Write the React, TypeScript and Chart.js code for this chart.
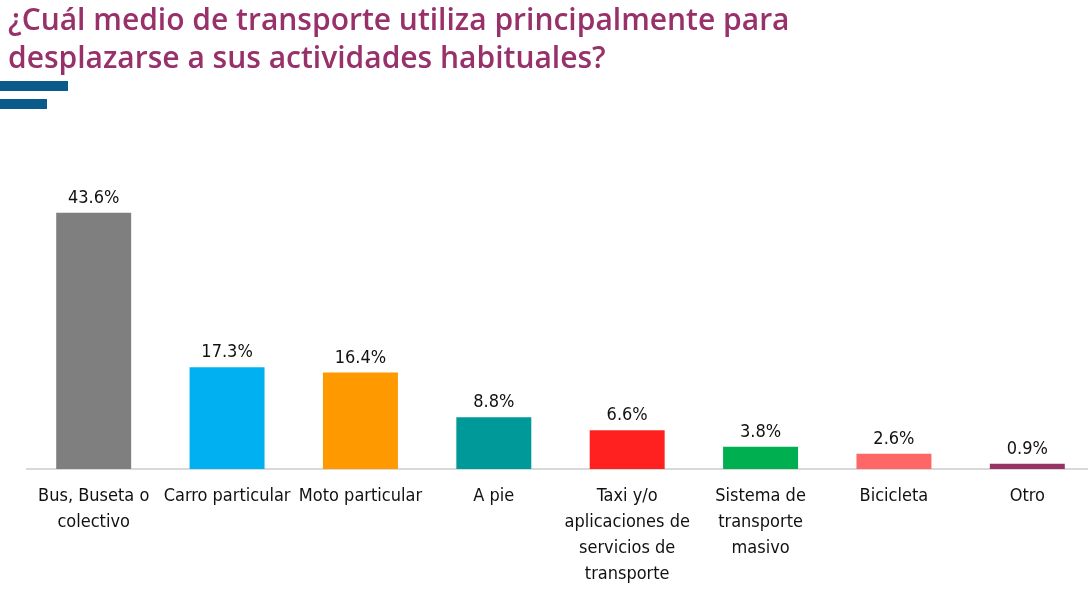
import React, { useEffect, useRef } from 'react';
import { Chart, registerables } from 'chart.js';

Chart.register(...registerables);

const titleLines = [
  '¿Cuál medio de transporte utiliza principalmente para',
  'desplazarse a sus actividades habituales?',
];

const categories: (string | string[])[] = [
  ['Bus, Buseta o', 'colectivo'],
  'Carro particular',
  'Moto particular',
  'A pie',
  ['Taxi y/o', 'aplicaciones de', 'servicios de', 'transporte'],
  ['Sistema de', 'transporte', 'masivo'],
  'Bicicleta',
  'Otro',
];

const values = [43.6, 17.3, 16.4, 8.8, 6.6, 3.8, 2.6, 0.9];

const barColors = [
  '#7f7f7f',
  '#00b0f0',
  '#ff9900',
  '#009999',
  '#ff2020',
  '#00b050',
  '#ff6666',
  '#993366',
];

const FONT = '"DejaVu Sans Condensed", "Roboto", sans-serif';

const valueLabelPlugin = {
  id: 'valueLabels',
  afterDatasetsDraw(chart: any) {
    const ctx = chart.ctx;
    const meta = chart.getDatasetMeta(0);
    ctx.save();
    ctx.font = `18px ${FONT}`;
    ctx.fillStyle = '#111111';
    ctx.textAlign = 'center';
    ctx.textBaseline = 'alphabetic';
    meta.data.forEach((bar: any, i: number) => {
      ctx.fillText(values[i].toFixed(1) + '%', bar.x, bar.y - 10);
    });
    ctx.restore();
  },
};

export default function App() {
  const canvasRef = useRef<HTMLCanvasElement | null>(null);

  useEffect(() => {
    if (!canvasRef.current) return;
    const chart = new Chart(canvasRef.current, {
      type: 'bar',
      data: {
        labels: categories,
        datasets: [
          {
            data: values,
            backgroundColor: barColors,
            borderWidth: 0,
            barPercentage: 0.562,
            categoryPercentage: 1,
          },
        ],
      },
      options: {
        responsive: false,
        animation: false,
        layout: { padding: { top: 175, left: 27, right: 6, bottom: 5 } },
        plugins: {
          legend: { display: false },
          tooltip: { enabled: false },
          title: { display: false },
        },
        scales: {
          x: {
            grid: { display: false, drawTicks: false },
            border: { display: true, color: '#d9d9d9', width: 2 },
            ticks: {
              color: '#111111',
              font: { family: FONT, size: 18, lineHeight: 1.444 },
              padding: 14,
              maxRotation: 0,
              autoSkip: false,
            },
          },
          y: {
            display: false,
            min: 0,
            max: 50,
          },
        },
      },
      plugins: [valueLabelPlugin],
    });
    return () => chart.destroy();
  }, []);

  return (
    <div
      style={{
        position: 'absolute',
        left: 0,
        top: 0,
        width: 1088,
        height: 592,
        overflow: 'hidden',
        background: '#ffffff',
      }}
    >
      <canvas
        ref={canvasRef}
        width={1100}
        height={606}
        style={{ position: 'absolute', left: 0, top: 0 }}
      />
      <div
        style={{
          position: 'absolute',
          left: 8,
          top: 0,
          fontFamily: '"Open Sans", sans-serif',
          fontWeight: 600,
          fontSize: 30,
          lineHeight: '38px',
          color: '#98306a',
          whiteSpace: 'nowrap',
        }}
      >
        {titleLines.map((t, i) => (
          <div key={i}>{t}</div>
        ))}
      </div>
      <div
        style={{
          position: 'absolute',
          left: 0,
          top: 81,
          width: 68,
          height: 10,
          background: '#0a5a8c',
        }}
      />
      <div
        style={{
          position: 'absolute',
          left: 0,
          top: 99,
          width: 47,
          height: 10,
          background: '#0a5a8c',
        }}
      />
    </div>
  );
}
